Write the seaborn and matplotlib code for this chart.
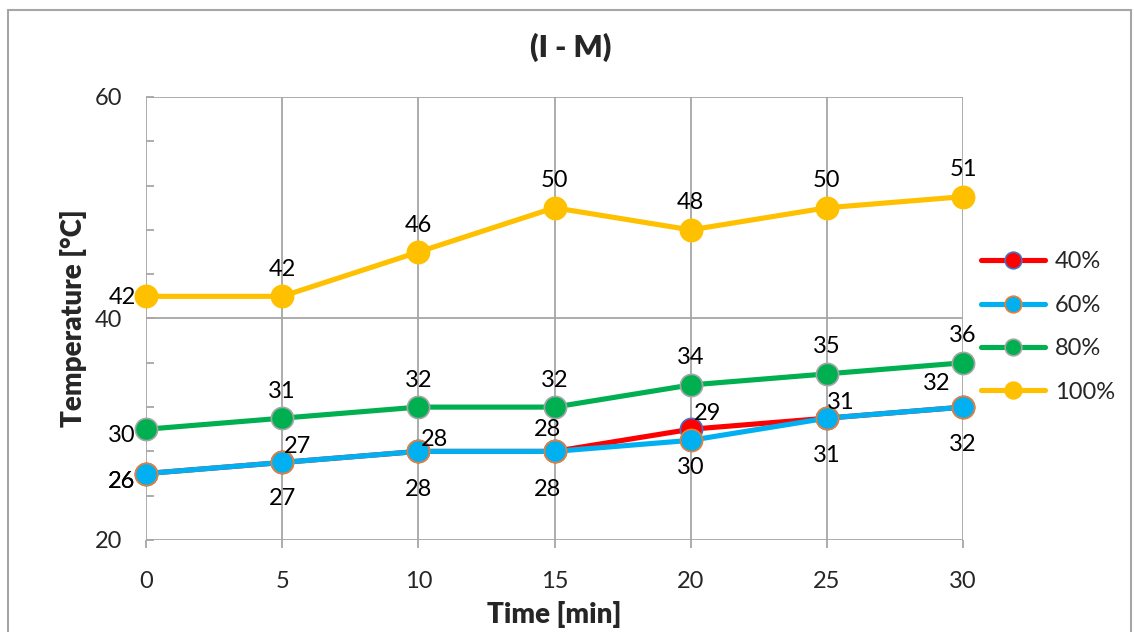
import matplotlib
matplotlib.use("Agg")
import matplotlib.pyplot as plt
from matplotlib.lines import Line2D
from matplotlib.patches import Rectangle
import seaborn as sns
import pandas as pd

# ---- data ----
time_min = [0, 5, 10, 15, 20, 25, 30]
series_names = ["40%", "60%", "80%", "100%"]
t40 = [26, 27, 28, 28, 30, 31, 32]
t60 = [26, 27, 28, 28, 29, 31, 32]
t80 = [30, 31, 32, 32, 34, 35, 36]
t100 = [42, 42, 46, 50, 48, 50, 51]
# data labels as printed on the chart
lab40 = ["26", "27", "28", "28", "29", "31", "32"]
lab60 = ["26", "27", "28", "28", "30", "31", "32"]
lab80 = ["30", "31", "32", "32", "34", "35", "36"]
lab100 = ["42", "42", "46", "50", "48", "50", "51"]
y_ticks = [20, 40, 60]
x_ticks = [0, 5, 10, 15, 20, 25, 30]

# ---- styles ----
colors = ["#FF0000", "#00B0F0", "#00B050", "#FFC000"]
edges = ["#4472C4", "#ED7D31", "#A5A5A5", "#FFC000"]
# label offsets in pixels (dx, dy downward positive)
off40 = [(-24, 8), (15, -16), (16, -12), (-7, -22), (17, -16), (14, -16), (-26, -24)]
off60 = [(-24, 8), (0, 36), (0, 38), (-7, 38), (0, 27), (0, 37), (0, 37)]
off80 = [(-24, 6)] + [(0, -27)] * 6
off100 = [(-24, 1)] + [(0, -27)] * 6

W, H = 1134, 632
sns.set_theme(style="white")
FONT = ["Lato", "DejaVu Sans"]
plt.rcParams["font.family"] = FONT

fig = plt.figure(figsize=(W / 100, H / 100), dpi=100)
ax = fig.add_axes([146 / W, 1 - 540 / H, (963 - 146) / W, (540 - 97) / H])

df = pd.DataFrame({"time": time_min * 4,
                   "temp": t40 + t60 + t80 + t100,
                   "series": [s for s in series_names for _ in time_min]})

fs = 17
lw = 3.7
ms = 16
all_vals = [t40, t60, t80, t100]
all_labs = [lab40, lab60, lab80, lab100]
all_offs = [off40, off60, off80, off100]
for i, name in enumerate(series_names):
    sub = df[df["series"] == name]
    sns.lineplot(data=sub, x="time", y="temp", ax=ax, color=colors[i],
                 linewidth=lw, marker="o", markersize=ms,
                 markeredgecolor=edges[i], markeredgewidth=1.2,
                 legend=False, zorder=3 + i, clip_on=False)
for i in range(4):
    for x, y, lab, (dx, dy) in zip(time_min, all_vals[i], all_labs[i], all_offs[i]):
        ax.annotate(lab, (x, y), xytext=(dx * 0.72, -dy * 0.72),
                    textcoords="offset points", ha="center", va="center",
                    fontsize=fs, color="#000000", zorder=10)

ax.set_xlim(0, 30)
ax.set_ylim(20, 60)
ax.set_xticks(x_ticks)
ax.set_yticks(y_ticks)
ax.set_yticks([24, 28, 32, 36, 44, 48, 52, 56], minor=True)
ax.grid(False)
gc = "#A6A6A6"
for x in x_ticks:
    ax.axvline(x, color=gc, linewidth=1.3, zorder=1)
for y in y_ticks:
    ax.axhline(y, color=gc, linewidth=1.3, zorder=1)
for sp in ax.spines.values():
    sp.set_visible(False)
ax.tick_params(axis="y", which="both", direction="in", length=6, width=1.3,
               color=gc, labelsize=fs, pad=17, left=True)
ax.tick_params(axis="x", which="major", direction="out", length=6, width=1.3,
               color=gc, labelsize=fs, pad=16, bottom=True)
ax.set_xlabel("Time [min]", fontsize=20, fontweight="heavy", va="center")
ax.xaxis.set_label_coords(0.5, (540 - 615) / 443)
ax.set_ylabel("Temperature [°C]", fontsize=20, fontweight="heavy", va="center")
ax.yaxis.set_label_coords((74 - 146) / 817, 0.5)
fig.text(571 / W, 1 - 47 / H, "(I - M)", fontsize=22, fontweight="heavy",
         ha="center", va="center")

handles = [Line2D([], [], color=colors[i], linewidth=lw, marker="o",
                  markersize=12, markeredgecolor=edges[i], markeredgewidth=1.2)
           for i in range(4)]
leg = fig.legend(handles, series_names, loc="center left",
                 bbox_to_anchor=(972 / W, 1 - 327 / H), frameon=False,
                 fontsize=fs, handlelength=2.7, labelspacing=0.95,
                 handletextpad=0.4, borderaxespad=0)

fig.patches.append(Rectangle((8 / W, -0.1), (1131 - 8) / W, 1.1 - 10 / H + 0.0,
                             transform=fig.transFigure, fill=False,
                             edgecolor="#A6A6A6", linewidth=1.5))
fig.savefig("out.png", dpi=100)
